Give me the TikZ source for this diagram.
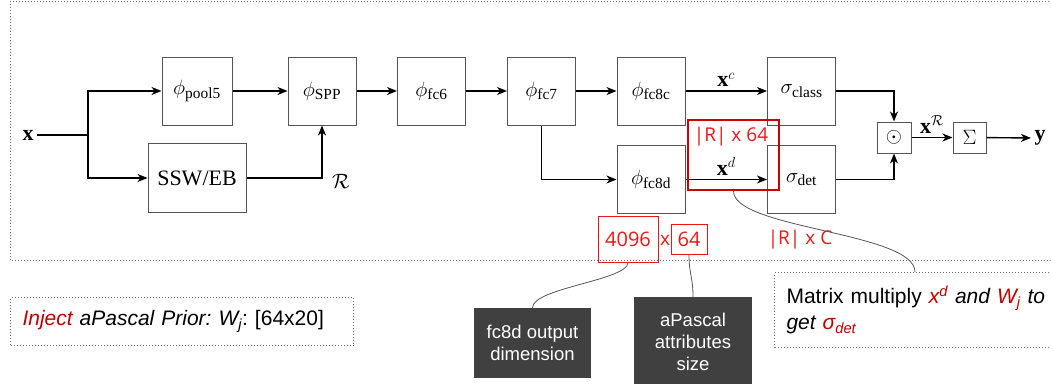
\documentclass[tikz,border=0pt]{standalone}
\usepackage{amsmath}
\usepackage{amssymb}
\usepackage{fontspec}
\setmainfont{Liberation Serif}
\newfontfamily\arialfont{Liberation Sans}
\newfontfamily\dimfont{Open Sans}
\usetikzlibrary{arrows.meta}
\definecolor{dimred}{HTML}{EE1515}
\definecolor{framered}{HTML}{CC0000}
\definecolor{injred}{HTML}{C00000}
\definecolor{darkbox}{HTML}{404040}
\definecolor{blockgray}{HTML}{555555}
\definecolor{dotgray}{HTML}{707070}
\frenchspacing

\begin{document}
\begin{tikzpicture}[x=1pt,y=-1pt,
	block/.style={draw=blockgray, line width=1pt, minimum width=68pt, minimum height=68pt, inner sep=0pt, font=\fontsize{22}{26}\selectfont},
	arr/.style={-{Stealth[length=10pt,width=8pt,inset=3pt]}, line width=1.4pt},
	lbl/.style={font=\fontsize{22}{26}\selectfont},
	dimbox/.style={draw=dimred, line width=0.8pt, text=dimred, inner sep=0pt, font=\dimfont\fontsize{20}{24}\selectfont},
	dimtext/.style={text=dimred, font=\dimfont\fontsize{19}{23}\selectfont},
	callout/.style={fill=darkbox, text=white, align=center, inner sep=0pt, font=\arialfont\fontsize{18.5}{22}\selectfont},
	note/.style={draw=dotgray, dotted, line width=1pt},
	link/.style={draw=blockgray, line width=0.8pt}]
	\clip (0,0) rectangle (1051,383);
	\draw[note] (10,1) rectangle (1070,260);
	\node[lbl] (x) at (28,135) {$\mathbf{x}$};
	\coordinate (split) at (88,135);
	\node[block, minimum width=70pt] (pool5) at (197,91) {$\phi_{\mathrm{pool5}}$};
	\node[block] (spp) at (322,91) {$\phi_{\mathrm{SPP}}$};
	\node[block, minimum width=98pt, minimum height=69pt] (ssw) at (197,178) {SSW/EB};
	\node[block] (fc6) at (431.5,91) {$\phi_{\mathrm{fc6}}$};
	\node[block] (fc7) at (541.5,91) {$\phi_{\mathrm{fc7}}$};
	\node[block] (fc8c) at (651,91) {$\phi_{\mathrm{fc8c}}$};
	\node[block] (fc8d) at (651,179.5) {$\phi_{\mathrm{fc8d}}$};
	\node[block] (cls) at (801.5,91) {$\sigma_{\mathrm{class}}$};
	\node[block] (det) at (801.5,179.5) {$\sigma_{\mathrm{det}}$};
	\node[block, minimum width=34pt, minimum height=31pt] (dot) at (894,137.5) {$\odot$};
	\node[block, minimum width=33pt, minimum height=31pt] (sum) at (969.5,137.5) {$\Sigma$};
	\node[lbl] (y) at (1040,138) {$\mathbf{y}$};
	\node[lbl] (rset) at (341,181) {$\mathcal{R}$};

	\draw[line width=1.4pt] (x) -- (split);
	\draw[arr] (split) |- (pool5);
	\draw[arr] (split) |- (ssw);
	\draw[arr] (pool5) -- (spp);
	\draw[arr] (ssw) -| (spp);
	\foreach \a/\b in {spp/fc6, fc6/fc7, fc7/fc8c}
		\draw[arr] (\a) -- (\b);
	\draw[arr] (fc7) |- (fc8d);
	\draw[arr] (fc8c) -- node[lbl, above] (xc) {$\mathbf{x}^c$} (cls);
	\draw[arr] (fc8d) -- node[lbl, above] (xd) {$\mathbf{x}^d$} (det);
	\draw[arr] (cls) -| (dot);
	\draw[arr] (det) -| (dot);
	\draw[arr] (dot) -- node[lbl, above] (xr) {$\mathbf{x}^{\mathcal{R}}$} (sum);
	\draw[arr] (sum) -- (y);

	\node[draw=framered, line width=2pt, minimum width=91pt, minimum height=70pt] (rsel) at (733.5,155) {};
	\node[dimtext] (rdim) at (731,137) {|R| x 64};
	\node[dimbox, minimum width=60pt, minimum height=46pt] (n4096) at (628,239) {4096};
	\node[dimtext] (xtimes) at (665,240) {x};
	\node[dimbox, minimum width=36pt, minimum height=30pt] (n64) at (689,239) {64};
	\node[dimtext] (rxc) at (800,240) {|R| x C};

	\node[callout, minimum width=117pt, minimum height=70pt] (cfc8d) at (532.5,343) {fc8d output\\dimension};
	\node[callout, minimum width=118pt, minimum height=90pt] (capa) at (693,342) {aPascal\\attributes\\size};
	\node[note, anchor=north west, text width=319pt, minimum height=48pt, inner xsep=12pt, inner ysep=0pt, align=left, font=\arialfont\fontsize{21}{25}\selectfont] (inote) at (10,297)
		{\textcolor{injred}{\itshape Inject} {\itshape aPascal Prior: W\textsubscript{j}}: [64x20]};
	\node[note, anchor=north west, text width=290pt, minimum height=75pt, inner xsep=12pt, inner ysep=0pt, align=left, font=\arialfont\fontsize{21}{26}\selectfont] (mnote) at (774,272)
		{Matrix multiply \textcolor{injred}{\itshape x\textsuperscript{d}} {\itshape and} \textcolor{injred}{\itshape W\textsubscript{j}}{\itshape\ to}\\
		{\itshape get} \textcolor{injred}{\itshape σ\textsubscript{det}}};
	\coordinate (mtop) at (915,272);

	\draw[link] (n4096.south) .. controls +(0,18) and +(0,-20) .. (cfc8d.north);
	\draw[link] (n64.south) .. controls +(0,20) and +(0,-20) .. (capa.north);
	\draw[link] (rsel.south) .. controls +(0,38) and +(0,-40) .. (mtop);
\end{tikzpicture}
\end{document}
